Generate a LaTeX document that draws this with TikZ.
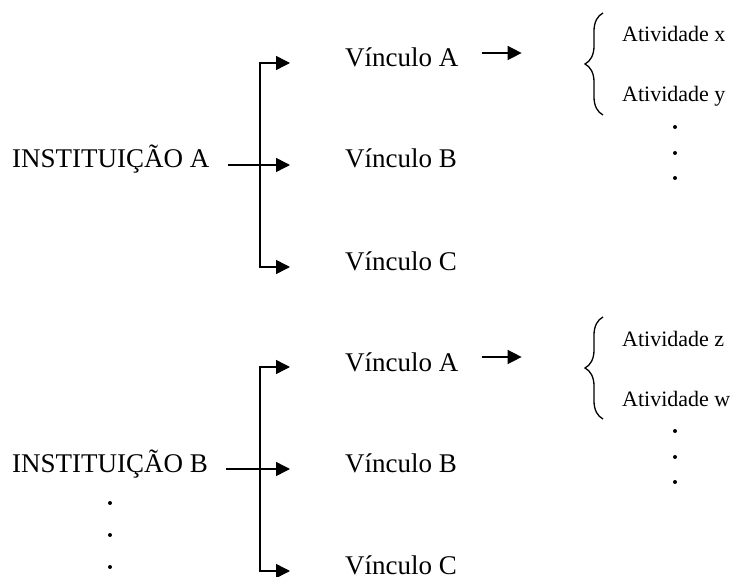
\documentclass[tikz,border=0pt]{standalone}
\usepackage{fontspec}
\setmainfont{Liberation Serif}
\usetikzlibrary{arrows.meta,decorations.pathreplacing}

\begin{document}
\begin{tikzpicture}[x=1pt,y=-1pt,
		big/.style={inner sep=0pt,anchor=base west,font=\fontsize{27}{30}\selectfont},
		small/.style={inner sep=0pt,anchor=base west,font=\fontsize{22}{26}\selectfont},
		link/.style={line width=1.5pt,-{Triangle[length=14pt,width=14pt]}},
		fork/.style={line width=1.5pt,line join=miter,{Triangle[length=14pt,width=14pt]}-{Triangle[length=14pt,width=14pt]}},
		bar/.style={line width=1.3pt},
		dot/.style={circle,fill,inner sep=0pt,minimum size=4pt}]
	\useasboundingbox (0,0) rectangle (733,577);
	\foreach \g/\oy/\lab/\p/\q in {a/0/A/x/y,b/304/B/z/w}{
		\node[big] (inst\g) at (12,168+\oy) {INSTITUIÇÃO \lab};
		\node[big] (vin\g A) at (345,67+\oy) {Vínculo A};
		\node[big] (vin\g B) at (345,168+\oy) {Vínculo B};
		\node[big] (vin\g C) at (345,270+\oy) {Vínculo C};
		\node[small] (ativ\g 1) at (622,42+\oy) {Atividade \p};
		\node[small] (ativ\g 2) at (622,102+\oy) {Atividade \q};
		\foreach \k/\y in {1/127,2/153,3/178}
			\node[dot] (dt\g\k) at (675,\y+\oy) {};
		\coordinate (top\g) at (260,63+\oy);
		\coordinate (bot\g) at (260,267+\oy);
		\draw[fork] ([xshift=-55pt,yshift=4pt]vin\g A.base west) -- (top\g) -- (bot\g)
			-- ([xshift=-55pt,yshift=3pt]vin\g C.base west);
		\draw[link] ([xshift=18pt,yshift=3pt]inst\g.base east) -- ([xshift=-55pt,yshift=3pt]vin\g B.base west);
		\draw[link] ([xshift=23pt,yshift=14pt]vin\g A.base east) -- ++(40,0);
		\draw[bar,decorate,decoration={brace,amplitude=18pt}] (603,115+\oy) -- (603,13+\oy);
	}
	\foreach \k/\y in {1/503,2/535,3/567}
		\node[dot] (ld\k) at (110,\y) {};
\end{tikzpicture}
\end{document}
